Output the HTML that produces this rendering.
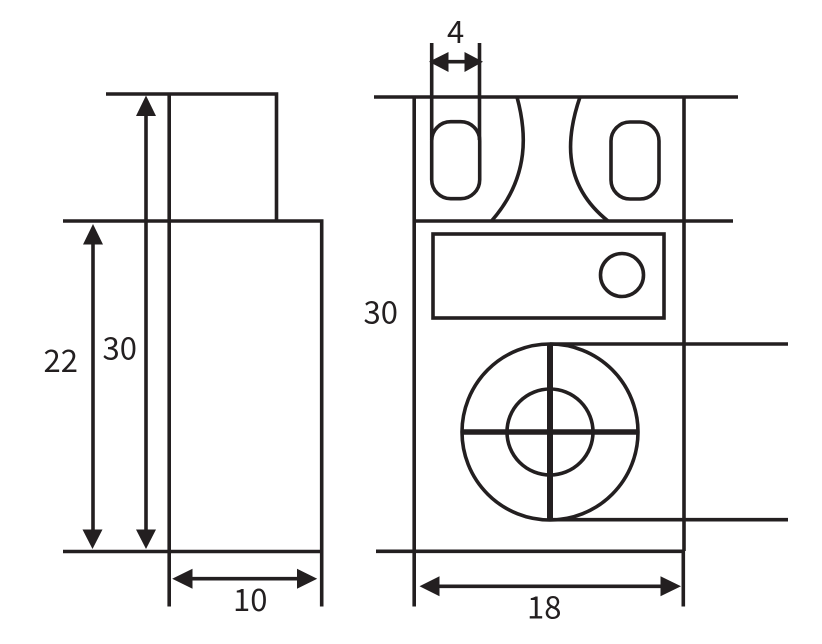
<!DOCTYPE html>
<html>
<head>
<meta charset="utf-8">
<style>
html,body{margin:0;padding:0;background:#fff;width:822px;height:644px;overflow:hidden}
svg{display:block}
text{font-family:"Noto Sans CJK SC","Liberation Sans",sans-serif;font-size:31px;fill:#231f20}
</style>
</head>
<body>
<svg width="822" height="644" viewBox="0 0 822 644" xmlns="http://www.w3.org/2000/svg">
<g fill="none" stroke="#231f20" stroke-width="3.6">
<!-- left view -->
<path d="M106 94H276.5V221"/>
<path d="M169.2 94V606.5"/>
<path d="M63 221H321.7V606.5"/>
<path d="M63 551.5H321.7"/>
<path d="M146 112V532"/>
<path d="M93 242V532"/>
<path d="M189 578.7H302"/>
<!-- right view -->
<path d="M374 97H738"/>
<path d="M414.2 97V606.5"/>
<path d="M684 97V551"/>
<path d="M414 221H733"/>
<path d="M376 551.3H684"/>
<path d="M683.3 551V606.5"/>
<path d="M431.7 43V140"/>
<path d="M479.5 43V140"/>
<path d="M445 61.7H468"/>
<rect x="431.7" y="121.7" width="48" height="77" rx="19"/>
<rect x="611" y="122" width="48" height="77" rx="19"/>
<path d="M517 97C526 130 531 176 491.5 221"/>
<path d="M580 97C568 132 559 182 608 221"/>
<rect x="433" y="234" width="231" height="84"/>
<circle cx="622" cy="275" r="21.5"/>
<circle cx="550" cy="432" r="88"/>
<circle cx="550" cy="432" r="43"/>
<path d="M550 344H788"/>
<path d="M550 519.7H788"/>
<path d="M461 432H638" stroke-width="5.5"/>
<path d="M550 344V520" stroke-width="6"/>
<path d="M436 586.3H664"/>
</g>
<g fill="#231f20">
<polygon points="146,95.5 136,116 156,116"/>
<polygon points="146,549 136,529.5 156,529.5"/>
<polygon points="93,224 83,244.5 103,244.5"/>
<polygon points="92.5,549 82.5,529.5 102.5,529.5"/>
<polygon points="172.2,578.7 192.5,568.7 192.5,588.7"/>
<polygon points="317.2,578.7 297,568.7 297,588.7"/>
<polygon points="419.5,586.3 439.5,576.3 439.5,596.3"/>
<polygon points="681,586.3 660.5,576.3 660.5,596.3"/>
<polygon points="429,61.7 448.5,52 448.5,72"/>
<polygon points="483,61.7 464.5,52 464.5,72"/>
</g>
<text x="43.5" y="372">22</text>
<text x="102.5" y="359.5">30</text>
<text x="233" y="611">10</text>
<text x="363.5" y="323.5">30</text>
<text x="447" y="43">4</text>
<text x="527" y="618.5">18</text>
</svg>
</body>
</html>
